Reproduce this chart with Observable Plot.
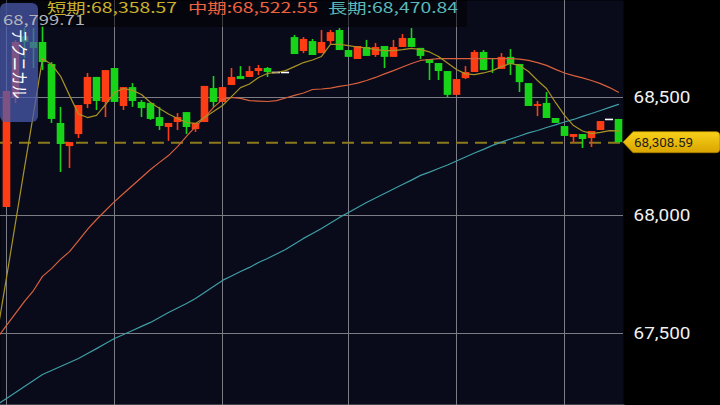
<!DOCTYPE html>
<html><head><meta charset="utf-8">
<script src="https://cdn.jsdelivr.net/npm/d3@7"></script>
<script src="https://cdn.jsdelivr.net/npm/@observablehq/plot@0.6"></script>
<style>
html,body{margin:0;padding:0;background:#000;}
#chart{width:720px;height:405px;overflow:hidden;position:relative;background:#000;}
</style></head><body><div id="chart"></div>
<script>
// ---- data ----
const openP = [68034, 68500, 68758, 68733, 68733, 68640, 68390, 68292, 68343, 68470,
 68585, 68479, 68623, 68462, 68542, 68479, 68475, 68415, 68373, 68394,
 68436, 68364, 68394, 68538, 68479, 68551, 68589, 68585, 68610, 68623,
 68606, 68606, 68754, 68695, 68737, 68686, 68737, 68784, 68699, 68661,
 68712, 68678, 68716, 68670, 68712, 68750, 68708, 68661, 68644, 68610,
 68509, 68580, 68606, 68691, 68665, 68619, 68670, 68640, 68559, 68462,
 68475, 68411, 68377, 68331, 68343, 68326, 68360, 68407, 68407];
const highP = [68525, 68741, 68792, 68792, 68799.71, 68648, 68458, 68309, 68466, 68602,
 68585, 68614, 68623, 68542, 68559, 68487, 68475, 68458, 68390, 68432,
 68436, 68390, 68547, 68589, 68542, 68623, 68631, 68631, 68636, 68627,
 68606, 68606, 68763, 68754, 68746, 68784, 68784, 68792, 68699, 68716,
 68742, 68729, 68716, 68742, 68767, 68792, 68708, 68661, 68644, 68610,
 68576, 68631, 68699, 68699, 68665, 68686, 68703, 68640, 68559, 68483,
 68521, 68411, 68377, 68343, 68343, 68356, 68398, 68407, 68407];
const lowP = [68034, 68475, 68665, 68623, 68614, 68390, 68182, 68199, 68326, 68453,
 68445, 68415, 68479, 68445, 68458, 68415, 68403, 68360, 68314, 68360,
 68343, 68352, 68394, 68458, 68479, 68551, 68576, 68585, 68593, 68585,
 68606, 68606, 68682, 68686, 68678, 68686, 68725, 68699, 68670, 68661,
 68674, 68670, 68623, 68670, 68712, 68712, 68661, 68572, 68572, 68500,
 68509, 68576, 68606, 68614, 68602, 68619, 68593, 68521, 68462, 68419,
 68411, 68390, 68335, 68305, 68284, 68288, 68360, 68407, 68308.59];
const closeP = [68525, 68733, 68733, 68708, 68648, 68407, 68301, 68309, 68466, 68585,
 68483, 68614, 68479, 68542, 68483, 68453, 68407, 68377, 68390, 68415,
 68373, 68390, 68547, 68479, 68542, 68585, 68576, 68610, 68623, 68606,
 68606, 68606, 68682, 68746, 68678, 68733, 68775, 68699, 68670, 68716,
 68674, 68712, 68670, 68712, 68750, 68712, 68674, 68644, 68610, 68509,
 68576, 68606, 68691, 68614, 68661, 68670, 68640, 68563, 68462, 68470,
 68411, 68390, 68335, 68343, 68322, 68356, 68398, 68407, 68308.59];

// moving averages, first value sits one bar left of the first candle
const maStart = -1;
const maShort = [67508,
 67737, 67970, 68203, 68432, 68665, 68640, 68591, 68509, 68430, 68415,
 68424, 68470, 68521, 68538, 68530, 68513, 68479, 68453, 68430, 68411,
 68394, 68390, 68415, 68441, 68466, 68504, 68542, 68557, 68585, 68602,
 68606, 68614, 68631, 68648, 68659, 68674, 68725, 68725, 68720, 68714,
 68710, 68703, 68699, 68699, 68703, 68708, 68703, 68693, 68674, 68646,
 68619, 68600, 68597, 68604, 68614, 68631, 68644, 68636, 68610, 68572,
 68538, 68479, 68424, 68381, 68358, 68347, 68352, 68360, 68358.57];
const maMid = [67483,
 67534, 67585, 67636, 67682, 67742, 67775, 67814, 67847, 67894, 67941,
 67983, 68021, 68059, 68093, 68127, 68161, 68195, 68225, 68254, 68292,
 68335, 68377, 68415, 68458, 68492, 68500, 68496, 68487, 68485, 68483,
 68487, 68498, 68509, 68519, 68534, 68536, 68540, 68547, 68553, 68561,
 68572, 68585, 68600, 68614, 68629, 68644, 68657, 68661, 68665, 68665,
 68665, 68665, 68665, 68665, 68665, 68665, 68665, 68663, 68657, 68648,
 68636, 68619, 68604, 68593, 68583, 68572, 68559, 68542, 68522.55];
const maLong = [67199,
 67225, 67250, 67275, 67301, 67326, 67343, 67360, 67377, 67394, 67415,
 67436, 67458, 67479, 67496, 67513, 67530, 67547, 67568, 67589, 67608,
 67627, 67648, 67674, 67699, 67725, 67744, 67763, 67780, 67801, 67818,
 67837, 67856, 67879, 67903, 67924, 67945, 67968, 67992, 68013, 68034,
 68055, 68074, 68093, 68112, 68131, 68150, 68170, 68184, 68199, 68214,
 68231, 68248, 68265, 68280, 68297, 68311, 68324, 68337, 68350, 68360,
 68373, 68384, 68396, 68407, 68420, 68432, 68445, 68458, 68470.84];

const maLabels = ["短期", "中期", "長期"];
const maLast = [68358.57, 68522.55, 68470.84];
const lastClose = 68308.59;
const maxHigh = 68799.71;
const yTicks = [67500, 68000, 68500];
const gridIdx = [0, 12, 24, 38, 50, 62];
const sideLabel = "テクニカル";

// ---- build ----
const candles = openP.map((o, i) => ({i, open: o, high: highP[i], low: lowP[i], close: closeP[i]}));
const dir = d => d.close > d.open ? "up" : d.close < d.open ? "down" : "flat";
const cColor = {up: "#ff3d14", down: "#18d418", flat: "#ffffff"};
const moving = candles.filter(d => dir(d) !== "flat");
const flats = candles.filter(d => dir(d) === "flat");
const series = arr => arr.map((v, k) => ({i: maStart + k, v}));
const maColors = ["#a89424", "#d9603c", "#3f9ea6"];
const hdrColors = ["#c9b22a", "#f0623e", "#5cb8b8"];

const chart = Plot.plot({
  width: 720, height: 405,
  marginLeft: 0, marginRight: 97, marginTop: 0, marginBottom: 0,
  style: {background: "#000", fontFamily: "Roboto, 'Noto Sans', sans-serif"},
  x: {type: "linear", domain: [-2/3, 623/9 - 2/3], axis: null},
  y: {domain: [67194.92, 68911.02], axis: null},
  marks: [
    Plot.frame({fill: "#090b1a"}),
    Plot.ruleY(yTicks, {stroke: "#7c7c84", strokeWidth: 1}),
    Plot.ruleX(gridIdx, {stroke: "#7c7c84", strokeWidth: 1}),
    Plot.frame({anchor: "bottom", stroke: "#7c7c84", strokeWidth: 2}),
    Plot.ruleY([lastClose], {stroke: "#8c7a1c", strokeWidth: 2, strokeDasharray: "12,7"}),
    Plot.ruleX(moving, {x: "i", y1: "low", y2: "high", stroke: d => cColor[dir(d)], strokeWidth: 1.6}),
    Plot.ruleX(moving, {x: "i", y1: "open", y2: "close", stroke: d => cColor[dir(d)], strokeWidth: 7.6}),
    Plot.ruleY(flats, {y: "close", x1: d => d.i - 0.45, x2: d => d.i + 0.45, stroke: cColor.flat, strokeWidth: 1.6}),
    Plot.line(series(maLong), {x: "i", y: "v", stroke: maColors[2], strokeWidth: 1.2, clip: true}),
    Plot.line(series(maMid), {x: "i", y: "v", stroke: maColors[1], strokeWidth: 1.2, clip: true}),
    Plot.line(series(maShort), {x: "i", y: "v", stroke: maColors[0], strokeWidth: 1.2, clip: true}),
    Plot.axisY(yTicks, {anchor: "right", tickSize: 0, tickPadding: 10, tickFormat: d3.format(","),
      fill: "#f2f2f2", fontSize: 16})
  ]
});
document.getElementById("chart").appendChild(chart);

const svg = d3.select(chart);
svg.selectAll('g[aria-label="y-axis tick label"] text')
  .attr("textLength", 57).attr("lengthAdjust", "spacingAndGlyphs");

const yS = chart.scale("y");
const ov = svg.append("g").attr("font-family", "'Noto Sans CJK JP', 'Noto Sans', sans-serif")
  .attr("text-anchor", "start");

// header strip
ov.append("rect").attr("x", 0).attr("y", 0).attr("width", 467).attr("height", 27)
  .attr("fill", "rgba(0,0,0,0.5)");
const hdrX = [47, 188, 328];
maLabels.forEach((lab, k) => {
  ov.append("text").attr("x", hdrX[k]).attr("y", 12.5).attr("text-anchor", "start")
    .attr("fill", hdrColors[k]).attr("font-size", 14)
    .attr("textLength", 130).attr("lengthAdjust", "spacingAndGlyphs")
    .text(`${lab}:${d3.format(",.2f")(maLast[k])}`);
});

// side tab
ov.append("rect").attr("x", 0).attr("y", 3).attr("width", 38).attr("height", 119)
  .attr("rx", 6).attr("fill", "#4b5bb0").attr("fill-opacity", 0.72);
ov.append("text").attr("transform", "translate(20,64) scale(1.25,1) rotate(90)")
  .attr("text-anchor", "middle").attr("dominant-baseline", "central")
  .attr("fill", "#ffffff").attr("font-size", 14).text(sideLabel);

// max label
ov.append("text").attr("x", 3).attr("y", 25).attr("text-anchor", "start")
  .attr("fill", "#b4b4bc").attr("font-size", 13.5)
  .attr("textLength", 82).attr("lengthAdjust", "spacingAndGlyphs")
  .text(d3.format(",.2f")(maxHigh));

// price tag
const y0 = yS.apply(lastClose);
const defs = svg.append("defs");
const grad = defs.append("linearGradient").attr("id", "tagGrad").attr("x1", 0).attr("y1", 0).attr("x2", 0).attr("y2", 1);
grad.append("stop").attr("offset", "0%").attr("stop-color", "#f8d21a");
grad.append("stop").attr("offset", "100%").attr("stop-color", "#d9a400");
ov.append("path")
  .attr("d", `M623,${y0} L633,${y0 - 10.5} L716,${y0 - 10.5} Q720,${y0 - 10.5} 720,${y0 - 6} L720,${y0 + 6} Q720,${y0 + 10.5} 716,${y0 + 10.5} L633,${y0 + 10.5} Z`)
  .attr("fill", "url(#tagGrad)").attr("stroke", "#a87e00").attr("stroke-width", 0.8);
ov.append("text").attr("x", 634).attr("y", y0 + 4.5).attr("text-anchor", "start")
  .attr("fill", "#1c1c1c")
  .attr("font-family", "Roboto, sans-serif").attr("font-size", 12)
  .attr("textLength", 59).attr("lengthAdjust", "spacingAndGlyphs")
  .text(d3.format(",.2f")(lastClose));
</script>
</body></html>
